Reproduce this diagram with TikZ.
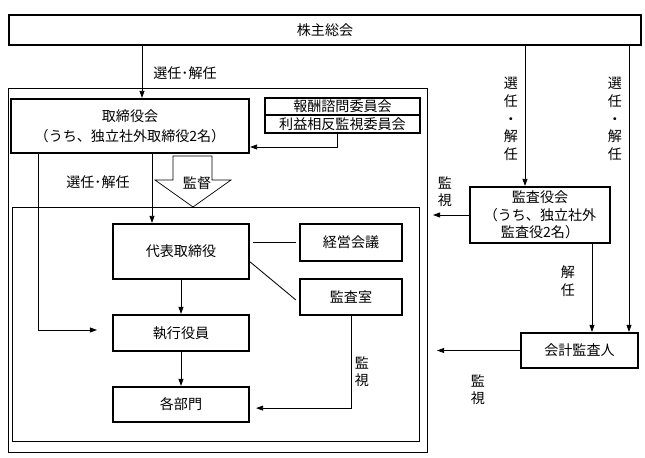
\documentclass[tikz,border=0pt]{standalone}
\usepackage{fontspec}
\setmainfont{Noto Sans CJK JP}
\usepackage{tikz}
\usetikzlibrary{arrows.meta,positioning}

\tikzset{
  box/.style={draw, line width=1.5pt, inner sep=0pt, align=center, font=\fontsize{10}{14}\selectfont},
  lbl/.style={inner sep=0pt, align=center, font=\fontsize{10}{12.6}\selectfont},
  conn/.style={line width=0.6pt},
}

\begin{document}
\begin{tikzpicture}[x=0.025cm, y=-0.025cm, >={Triangle[length=5pt,width=3.5pt]}]
    \useasboundingbox (0,0) rectangle (645,458);

    % Frames
    \draw[conn] (8,88) rectangle (427,452);
    \draw[conn] (12,207) rectangle (419,441);

    % Boxes
    \node[box, minimum width=15.8cm, minimum height=0.75cm] (meeting) at (325,30) {株主総会};
    \node[box, minimum width=5.95cm, minimum height=1.35cm] (board) at (130,126) {取締役会\\（うち、独立社外取締役2名）};
    \node[box, minimum width=3.875cm, minimum height=0.425cm] (reward) at (342.5,106.5) {報酬諮問委員会};
    \node[box, minimum width=3.875cm, minimum height=0.45cm, below=-1.5pt of reward] (conflict) {利益相反監視委員会};
    \node[box, minimum width=3.5cm, minimum height=1.4cm, font=\fontsize{10}{12.4}\selectfont] (kansa) at (540,215) {監査役会\\（うち、独立社外\\監査役2名）};
    \node[box, minimum width=3.4cm, minimum height=1.375cm] (rep) at (181,251.5) {代表取締役};
    \node[box, minimum width=2.55cm, minimum height=0.925cm] (mgmt) at (351,242.5) {経営会議};
    \node[box, minimum width=2.55cm, minimum height=0.9cm] (iaud) at (351,297) {監査室};
    \node[box, minimum width=3.4cm, minimum height=0.9cm] (exec) at (181,333) {執行役員};
    \node[box, minimum width=3.4cm, minimum height=0.875cm] (dept) at (181,404.5) {各部門};
    \node[box, minimum width=2.925cm, minimum height=0.875cm] (acct) at (579.5,350.5) {会計監査人};

    % Connector positions
    \coordinate (xa) at (142,0);
    \coordinate (xb) at (525,0);
    \coordinate (xc) at (629,0);
    \coordinate (xd) at (592,0);
    \coordinate (xe) at (38,0);
    \coordinate (xf) at (152,0);
    \coordinate (xg) at (337,147);
    \coordinate (toexec) at (97,330);
    \coordinate (mon1) at (433,215);
    \coordinate (mon2) at (437,350.5);

    % Appointment
    \draw[->, conn] (meeting.south -| xa) -- (board.north -| xa);
    \draw[->, conn] (meeting.south -| xb) -- (kansa.north -| xb);
    \draw[->, conn] (meeting.south -| xc) -- (acct.north -| xc);
    \draw[->, conn] (kansa.south -| xd) -- (acct.north -| xd);
    \draw[->, conn] (conflict.south -| xg) |- (board.east |- xg);
    \draw[->, conn] (board.south -| xf) -- (rep.north -| xf);
    \draw[->, conn] (board.south -| xe) |- (toexec);
    \draw[->, conn] (rep.south) -- (exec.north);
    \draw[->, conn] (exec.south) -- (dept.north);

    % Internal links
    \draw[conn, shorten <=2pt, shorten >=2pt] (mgmt.west -| rep.east) -- (mgmt.west);
    \draw[conn] ([yshift=-0.26cm]rep.east) -- ([yshift=-0.075cm, xshift=-0.075cm]iaud.west);

    % Monitoring
    \draw[->, conn] (iaud.south) |- ([xshift=0.15cm, yshift=-0.09cm]dept.east);
    \draw[->, conn] (kansa.west) -- (mon1);
    \draw[->, conn] (acct.west) -- (mon2);

    % Supervision arrow
    \draw[line width=0.5pt, fill=white] (173,156) -- (173,180) -- (155,180) -- (193,207) -- (231,180) -- (212,180) -- (212,156) -- cycle;

    % Labels
    \node[lbl] (sel1) at (185,73) {選任･解任};
    \node[lbl] (sel2) at (98,182) {選任･解任};
    \node[lbl] (suplbl) at (197,183) {監督};
    \node[lbl] (sel3) at (511,119) {選\\任\\・\\解\\任};
    \node[lbl] (sel4) at (615,119) {選\\任\\・\\解\\任};
    \node[lbl] (dis) at (568,281) {解\\任};
    \node[lbl, font=\fontsize{10}{12}\selectfont] (monl1) at (445,191.5) {監\\視};
    \node[lbl, font=\fontsize{10}{12}\selectfont] (monl2) at (362,371.5) {監\\視};
    \node[lbl, font=\fontsize{10}{12}\selectfont] (monl3) at (478,390) {監\\視};
\end{tikzpicture}
\end{document}
